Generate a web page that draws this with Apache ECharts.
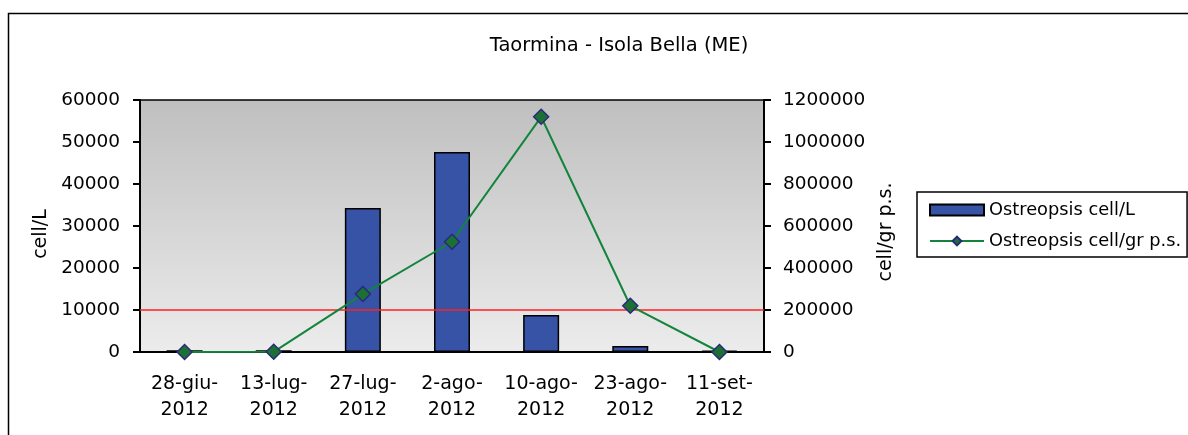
<!DOCTYPE html>
<html><head><meta charset="utf-8">
<script src="https://cdn.jsdelivr.net/npm/echarts@6/dist/echarts.min.js"></script>
<style>html,body{margin:0;padding:0;background:#fff}#c{width:1188px;height:435px}</style>
</head><body><div id="c"></div>
<script>
const categories = ['28-giu-\n2012','13-lug-\n2012','27-lug-\n2012','2-ago-\n2012','10-ago-\n2012','23-ago-\n2012','11-set-\n2012'];
const cellL = [400, 400, 34300, 47600, 8800, 1400, 300];
const cellGr = [0, 1000, 276000, 525000, 1120000, 220000, 0];
const threshold = 10000;
const leftTicks = [0, 60000, 10000];
const rightTicks = [0, 1200000, 200000];

const FONT = "'DejaVu Sans', sans-serif";
const plain = v => String(v);
const chart = echarts.init(document.getElementById('c'));
chart.setOption({
  animation: false,
  textStyle: {fontFamily: FONT, color: '#000'},
  title: {text: 'Taormina - Isola Bella (ME)', left: 614, top: 31, textAlign: 'center',
    textStyle: {fontFamily: FONT, fontSize: 19.5, fontWeight: 'normal', color: '#000'}},
  graphic: [{type: 'rect', shape: {x: 8.5, y: 13.5, width: 1200, height: 450},
    style: {fill: 'none', stroke: '#000', lineWidth: 1.5}, silent: true, z: 100}],
  legend: {orient: 'vertical', left: 917, top: 192, padding: [9, 6, 7, 12], itemGap: 13,
    borderColor: '#000', borderWidth: 1.5, itemWidth: 54, itemHeight: 11,
    textStyle: {fontFamily: FONT, fontSize: 17.8, color: '#000'},
    data: [{name: 'Ostreopsis cell/L', icon: 'rect'}, {name: 'Ostreopsis cell/gr p.s.'}]},
  grid: {left: 140, right: 424, top: 100, bottom: 83, show: true, borderColor: '#000', borderWidth: 1.5,
    backgroundColor: new echarts.graphic.LinearGradient(0, 0, 0, 1, [
      {offset: 0, color: '#bfbfbf'}, {offset: 1, color: '#ececec'}])},
  xAxis: {type: 'category', data: categories,
    axisLine: {lineStyle: {color: '#000', width: 2}},
    axisTick: {length: 9, lineStyle: {color: '#000', width: 2}},
    axisLabel: {interval: 0, fontFamily: FONT, fontSize: 19, color: '#000', margin: 19, lineHeight: 26}},
  yAxis: [
    {type: 'value', min: leftTicks[0], max: leftTicks[1], interval: leftTicks[2],
      name: 'cell/L', nameLocation: 'middle', nameGap: 81, nameRotate: 90,
      nameTextStyle: {fontFamily: FONT, fontSize: 19, color: '#000', padding: [0, 16, 0, 0]},
      axisLine: {show: true, lineStyle: {color: '#000', width: 2}},
      axisTick: {show: true, length: 7, lineStyle: {color: '#000', width: 2}},
      axisLabel: {fontFamily: FONT, fontSize: 18.5, color: '#000', margin: 20, formatter: plain},
      splitLine: {show: false}},
    {type: 'value', min: rightTicks[0], max: rightTicks[1], interval: rightTicks[2], position: 'right',
      name: 'cell/gr p.s.', nameLocation: 'middle', nameGap: 87, nameRotate: 90,
      nameTextStyle: {fontFamily: FONT, fontSize: 19, color: '#000', padding: [0, 12, 0, 0]},
      axisLine: {show: true, lineStyle: {color: '#000', width: 2}},
      axisTick: {show: true, length: 7, lineStyle: {color: '#000', width: 2}},
      axisLabel: {fontFamily: FONT, fontSize: 18.5, color: '#000', margin: 19, formatter: plain},
      splitLine: {show: false}}
  ],
  series: [
    {name: 'Ostreopsis cell/L', type: 'bar', yAxisIndex: 0, data: cellL, barWidth: 36,
      itemStyle: {color: '#3653a5', borderColor: '#000', borderWidth: 1.5},
      markLine: {silent: true, symbol: ['none', 'none'], label: {show: false},
        lineStyle: {color: '#ff2020', width: 1.5, type: 'solid'},
        data: [{yAxis: threshold}]}},
    {name: 'Ostreopsis cell/gr p.s.', type: 'line', yAxisIndex: 1, data: cellGr,
      symbol: 'diamond', symbolSize: 15, z: 5,
      lineStyle: {color: '#13843c', width: 2},
      itemStyle: {color: '#1d7034', borderColor: '#2a2a7a', borderWidth: 1.5}}
  ]
});
</script></body></html>
